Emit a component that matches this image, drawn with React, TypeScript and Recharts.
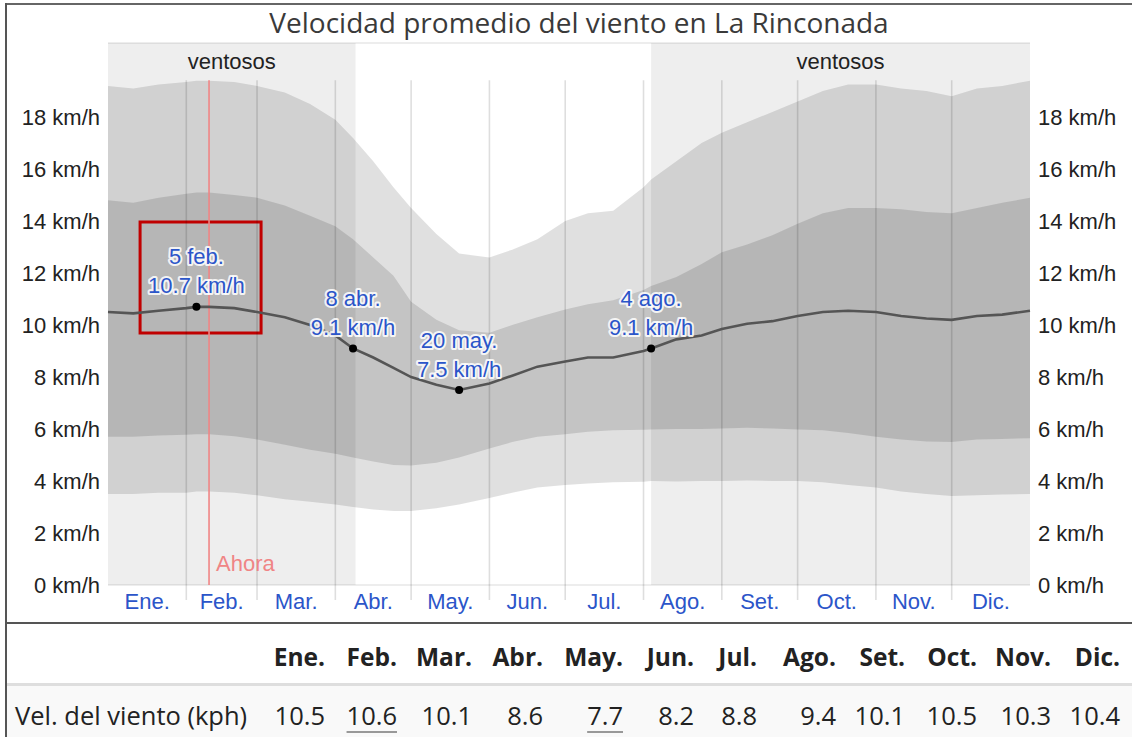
import React from 'react';
import {
  ComposedChart,
  Area,
  Line,
  XAxis,
  YAxis,
  CartesianGrid,
  ReferenceArea,
  ReferenceLine,
  ReferenceDot,
} from 'recharts';

// day of year (0 = 1 Jan)
const days = [0, 10, 20, 31, 35, 40, 50, 59, 70, 80, 90, 97, 105, 113, 120, 130, 139, 151, 160, 170, 181, 190, 200, 212, 215, 225, 235, 243, 253, 263, 273, 283, 293, 304, 314, 324, 334, 344, 354, 365];
const p90 = [19.2, 19.1, 19.25, 19.35, 19.4, 19.4, 19.35, 19.2, 18.95, 18.5, 17.9, 17.2, 16.3, 15.3, 14.5, 13.5, 12.75, 12.6, 12.9, 13.3, 14.0, 14.3, 14.4, 15.3, 15.6, 16.3, 17.0, 17.4, 17.8, 18.2, 18.6, 19.0, 19.25, 19.25, 19.1, 19.0, 18.8, 19.1, 19.2, 19.4];
const p75 = [14.8, 14.7, 14.9, 15.05, 15.1, 15.1, 15.0, 14.9, 14.6, 14.2, 13.8, 13.3, 12.6, 11.9, 10.9, 10.2, 9.8, 9.7, 10.0, 10.3, 10.6, 10.8, 10.95, 11.35, 11.5, 11.85, 12.35, 12.8, 13.1, 13.45, 13.9, 14.3, 14.5, 14.5, 14.45, 14.35, 14.3, 14.5, 14.7, 14.9];
const p25 = [5.7, 5.7, 5.75, 5.78, 5.8, 5.8, 5.72, 5.6, 5.4, 5.2, 5.05, 4.9, 4.75, 4.62, 4.6, 4.7, 4.9, 5.25, 5.5, 5.7, 5.8, 5.9, 5.95, 5.97, 5.98, 6.0, 6.0, 6.02, 6.05, 6.02, 5.98, 5.95, 5.85, 5.7, 5.6, 5.52, 5.5, 5.6, 5.62, 5.65];
const p10 = [3.5, 3.5, 3.55, 3.55, 3.6, 3.6, 3.55, 3.45, 3.3, 3.2, 3.1, 3.0, 2.9, 2.85, 2.85, 2.95, 3.1, 3.35, 3.55, 3.75, 3.85, 3.9, 3.95, 3.97, 4.0, 3.98, 4.0, 4.0, 4.02, 4.0, 4.0, 3.95, 3.85, 3.75, 3.6, 3.5, 3.42, 3.45, 3.48, 3.5];
const avg = [10.5, 10.45, 10.55, 10.65, 10.7, 10.7, 10.65, 10.5, 10.3, 10.0, 9.6, 9.1, 8.75, 8.35, 8.0, 7.7, 7.5, 7.75, 8.05, 8.4, 8.6, 8.75, 8.75, 9.0, 9.1, 9.45, 9.6, 9.85, 10.05, 10.15, 10.35, 10.5, 10.55, 10.5, 10.35, 10.25, 10.2, 10.35, 10.4, 10.55];

const monthStarts = [31, 59, 90, 120, 151, 181, 212, 243, 273, 304, 334];
const monthMids = [15.5, 45, 74.5, 105, 135.5, 166, 196.5, 227.5, 258, 288.5, 319, 349.5];
const monthLabels = ['Ene.', 'Feb.', 'Mar.', 'Abr.', 'May.', 'Jun.', 'Jul.', 'Ago.', 'Set.', 'Oct.', 'Nov.', 'Dic.'];
const yTicks = [0, 2, 4, 6, 8, 10, 12, 14, 16, 18];

// windy seasons (day ranges)
const windy = [[0, 98], [215, 365]];
const nowDay = 40;

// annotated points: day, value, date label
const notes = [
  { day: 35, value: 10.7, date: '5 feb.' },
  { day: 97, value: 9.1, date: '8 abr.' },
  { day: 139, value: 7.5, date: '20 may.' },
  { day: 215, value: 9.1, date: '4 ago.' },
];
// highlight box around first note (day / km/h)
const box = { x1: 12.7, x2: 60.6, y1: 9.69, y2: 13.96 };

const tableValues = [10.5, 10.6, 10.1, 8.6, 7.7, 8.2, 8.8, 9.4, 10.1, 10.5, 10.3, 10.4];
const colRight = [325, 397, 472, 543, 623, 694, 757, 836, 905, 977, 1051, 1120];

const data = days.map((d, i) => ({
  day: d,
  outer: [p10[i], p90[i]],
  inner: [p25[i], p75[i]],
  avg: avg[i],
}));

const BLUE = '#2b55c9';
const FONT = '"Liberation Sans", Arial, sans-serif';
const TFONT = '"Open Sans", sans-serif';

const NoteDot = (props: any) => {
  const { cx, cy, note } = props;
  const txt = (s: string, y: number) => (
    <text
      x={cx}
      y={y}
      textAnchor="middle"
      dominantBaseline="central"
      fontSize={22}
      fontFamily={FONT}
      fill={BLUE}
      stroke="#ffffff"
      strokeOpacity={0.85}
      strokeWidth={4}
      strokeLinejoin="round"
      paintOrder="stroke"
    >
      {s}
    </text>
  );
  return (
    <g>
      <circle cx={cx} cy={cy} r={4} fill="#000" />
      {txt(note.date, cy - 50)}
      {txt(`${note.value} km/h`, cy - 21)}
    </g>
  );
};

const AhoraLabel = (props: any) => {
  const { viewBox } = props;
  if (!viewBox) return null;
  return (
    <text
      x={viewBox.x + 7}
      y={viewBox.y + viewBox.height - 22}
      dominantBaseline="central"
      fontSize={22}
      fontFamily={FONT}
      fill="#f08585"
    >
      Ahora
    </text>
  );
};

export default function App() {
  const maxV = Math.max(...tableValues);
  const minV = Math.min(...tableValues);
  return (
    <div style={{ position: 'relative', width: 1132, height: 737, background: '#fff', overflow: 'hidden', fontFamily: FONT }}>
      <style>{'body{margin:0}'}</style>
      <ComposedChart
        width={1132}
        height={623}
        data={data}
        margin={{ top: 43, right: 7, left: 8, bottom: 8 }}
        style={{ fontFamily: FONT }}
      >
        <CartesianGrid vertical={false} stroke="#000" strokeOpacity={0.07} strokeWidth={2} />
        {windy.map(([a, b], i) => (
          <ReferenceArea
            key={'w' + i}
            yAxisId="l"
            x1={a}
            x2={b}
            y1={0}
            y2={20.85}
            fill="#000"
            fillOpacity={0.066}
            stroke="none"
            label={{ value: 'ventosos', position: 'insideTop', offset: 10, fill: '#222', fontSize: 22 }}
          />
        ))}
        <XAxis
          dataKey="day"
          type="number"
          domain={[0, 365]}
          ticks={monthMids}
          tickFormatter={(v: number) => monthLabels[monthMids.indexOf(v)]}
          axisLine={false}
          tickLine={false}
          height={30}
          interval={0}
          tick={{ fill: BLUE, fontSize: 22 }}
        />
        <YAxis
          yAxisId="l"
          domain={[0, 20.85]}
          ticks={yTicks}
          allowDataOverflow
          width={100}
          axisLine={false}
          tickLine={false}
          tickFormatter={(v: number) => `${v} km/h`}
          tick={{ fill: '#222', fontSize: 22 }}
        />
        <YAxis
          yAxisId="r"
          orientation="right"
          domain={[0, 20.85]}
          ticks={yTicks}
          allowDataOverflow
          width={95}
          axisLine={false}
          tickLine={false}
          tickFormatter={(v: number) => `${v} km/h`}
          tick={{ fill: '#222', fontSize: 22 }}
        />
        <Area
          yAxisId="l"
          dataKey="outer"
          type="linear"
          fill="#000"
          fillOpacity={0.12}
          stroke="none"
          isAnimationActive={false}
        />
        <Area
          yAxisId="l"
          dataKey="inner"
          type="linear"
          fill="#000"
          fillOpacity={0.125}
          stroke="none"
          isAnimationActive={false}
        />
        {monthStarts.map((m) => (
          <ReferenceLine
            key={'m' + m}
            yAxisId="l"
            segment={[{ x: m, y: -0.58 }, { x: m, y: 19.42 }]}
            stroke="#000"
            strokeOpacity={0.13}
            strokeWidth={1.6}
            ifOverflow="visible"
          />
        ))}
        <ReferenceLine
          yAxisId="l"
          segment={[{ x: nowDay, y: 0 }, { x: nowDay, y: 19.42 }]}
          stroke="#f08585"
          strokeWidth={1.6}
          ifOverflow="visible"
          label={<AhoraLabel />}
        />
        <Line
          yAxisId="l"
          dataKey="avg"
          type="linear"
          stroke="#555"
          strokeWidth={2.6}
          dot={false}
          isAnimationActive={false}
        />
        {notes.map((n) => (
          <ReferenceDot
            key={n.date}
            yAxisId="l"
            x={n.day}
            y={n.value}
            r={4}
            shape={(p: any) => <NoteDot {...p} note={n} />}
          />
        ))}
        <ReferenceArea
          yAxisId="l"
          x1={box.x1}
          x2={box.x2}
          y1={box.y1}
          y2={box.y2}
          fill="none"
          fillOpacity={0}
          stroke="#c00000"
          strokeWidth={3}
          strokeOpacity={1}
        />
      </ComposedChart>

      <div
        style={{
          position: 'absolute',
          left: 13,
          top: 2,
          width: 1132,
          textAlign: 'center',
          fontFamily: TFONT,
          fontSize: 28,
          color: '#3a3a3a',
          lineHeight: '40px',
        }}
      >
        Velocidad promedio del viento en La Rinconada
      </div>

      {/* frame */}
      <div style={{ position: 'absolute', left: 5, top: 3, right: 0, height: 2, background: '#666' }} />
      <div style={{ position: 'absolute', left: 5, top: 3, width: 2, height: 737, background: '#555' }} />
      <div style={{ position: 'absolute', left: 5, top: 622, right: 0, height: 2, background: '#555' }} />

      {/* table */}
      <div style={{ position: 'absolute', left: 7, top: 683, right: 0, height: 3, background: '#dedede' }} />
      <div style={{ position: 'absolute', left: 7, top: 686, right: 0, bottom: 0, background: '#f9f9f9' }} />
      {monthLabels.map((m, i) => (
        <div
          key={'h' + m}
          style={{
            position: 'absolute',
            right: 1132 - colRight[i],
            top: 640,
            lineHeight: '34px',
            fontFamily: TFONT,
            fontWeight: 700,
            fontSize: 24.5,
            color: '#222',
          }}
        >
          {m}
        </div>
      ))}
      <div
        style={{
          position: 'absolute',
          left: 15,
          top: 698,
          lineHeight: '34px',
          fontFamily: TFONT,
          fontSize: 25.5,
          color: '#222',
        }}
      >
        Vel. del viento (kph)
      </div>
      {tableValues.map((v, i) => (
        <div
          key={'v' + i}
          style={{
            position: 'absolute',
            right: 1132 - colRight[i],
            top: 698,
            lineHeight: '34px',
            fontFamily: TFONT,
            fontSize: 25.5,
            color: '#222',
            textDecoration: v === maxV || v === minV ? 'underline' : 'none',
            textDecorationColor: '#999',
            textDecorationThickness: 2,
            textUnderlineOffset: 6,
          }}
        >
          {v.toFixed(1)}
        </div>
      ))}
    </div>
  );
}
